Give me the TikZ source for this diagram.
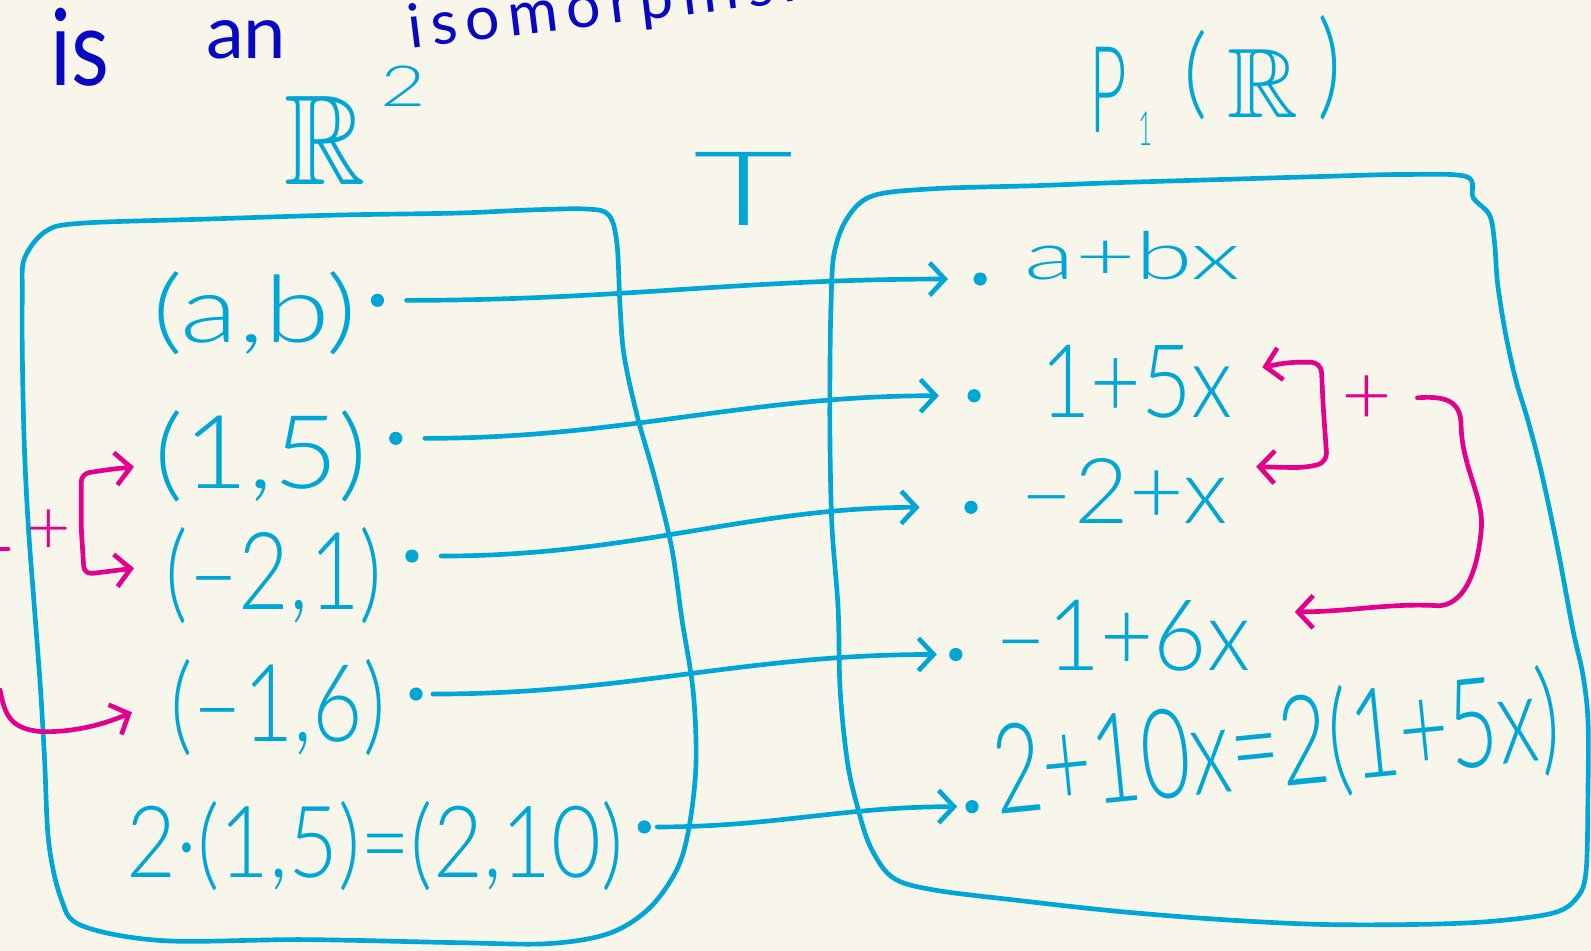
\documentclass[tikz,border=0pt]{standalone}
\usepackage{amssymb}
\usepackage{fontspec}
\usepackage{graphicx}
\usetikzlibrary{arrows.meta}
\setmainfont{Lato}
\newfontfamily\hw{Lato Light}
\newfontfamily\nvf[LetterSpace=14]{Lato}
\newfontfamily\nvr{Lato}
\definecolor{bg}{RGB}{248,246,234}
\definecolor{cy}{RGB}{0,166,214}
\definecolor{mg}{RGB}{228,0,140}
\definecolor{nv}{RGB}{8,8,196}
\newcommand\fb[3]{\resizebox*{#1pt}{#2pt}{#3}}
\begin{document}
\begin{tikzpicture}[x=1pt,y=-1pt,line cap=round,line join=round,
 cl/.style={draw=cy,line width=4.6pt},
 arr/.style={cl,-{Straight Barb[length=15pt,width=32pt]}},
 ml/.style={draw=mg,line width=4.6pt},
 marr/.style={ml,-{Straight Barb[length=15pt,width=32pt]}},
 mbi/.style={ml,{Straight Barb[length=15pt,width=32pt]}-{Straight Barb[length=15pt,width=32pt]}},
 dotn/.style={circle,fill=cy,inner sep=0pt,minimum size=13pt},
 tx/.style={text=cy,inner sep=0pt,outer sep=0pt,anchor=north west},
 mtx/.style={text=mg,inner sep=0pt,anchor=north west},
 ntx/.style={text=nv,inner sep=0pt,anchor=north west}]
\useasboundingbox (0,0) rectangle (1568,937);
\clip (0,0) rectangle (1568,937);
\fill[bg] (0,0) rectangle (1568,937);

% top handwriting
\node[ntx] (is) at (50,8) {\fb{58}{77}{\nvr is}};
\node[ntx] (an) at (203,20) {\fb{79}{38}{\nvr an}};
\node[text=nv,inner sep=0pt,anchor=base west,rotate=7] (iso) at (404,48) {\fontsize{60}{60}\selectfont\nvf isomorphism};

% set labels
\node[tx] (Rl) at (280,95) {\fb{80}{87}{$\mathbb{R}$}};
\node[tx] (Rl2) at (375,65) {\fb{45}{40}{\hw 2}};
\node[tx] (T) at (683,150) {\fb{99}{72}{\hw T}};
\node[tx] (P) at (1074,47) {\fb{37}{84}{\hw P}};
\node[tx] (P1) at (1122,110) {\fb{14}{33}{\hw 1}};
\node[tx] (PL) at (1166,30) {\fb{24}{88}{\hw (}};
\node[tx] (PR) at (1210,49) {\fb{70}{67}{$\mathbb{R}$}};
\node[tx] (PRp) at (1298,15) {\fb{24}{103}{\hw )}};

% boxes
\draw[cl] plot[smooth cycle,tension=0.55] coordinates {
(24,255) (45,228) (80,220) (200,216) (330,212) (450,210) (520,207) (578,206)
(600,212) (608,240) (611,300) (615,350) (628,410) (645,470) (662,540) (672,610)
(683,680) (686,750) (680,810) (668,855) (640,895) (600,920) (540,930) (450,929)
(300,926) (160,927) (80,912) (60,885) (48,830) (44,750) (40,680) (34,600)
(28,520) (24,440) (22,350) (22,290)};
\draw[cl] plot[smooth cycle,tension=0.55] coordinates {
(822,250) (835,215) (860,193) (920,186) (1020,183) (1100,180) (1200,177) (1300,174)
(1380,172) (1445,174) (1452,195) (1468,212) (1473,240) (1476,280) (1484,330)
(1494,375) (1506,415) (1519,465) (1535,540) (1550,620) (1560,665) (1565,710)
(1565,780) (1563,860) (1553,886) (1530,900) (1470,908) (1400,911) (1300,911)
(1200,906) (1100,898) (1000,887) (920,877) (880,865) (858,835) (845,795)
(835,750) (828,680) (826,600) (820,520) (818,440) (818,360) (819,300)};

% left texts
\node[tx] (t1) at (150,268) {\fb{202}{82}{\hw (a,b)}};
\node[tx] (t2) at (152,405) {\fb{210}{90}{\hw (1,5)}};
\node[tx] (t3) at (163,520) {\fb{214}{95}{\hw (–2,1)}};
\node[tx] (t4) at (168,650) {\fb{212}{95}{\hw (–1,6)}};
\node[tx] (t5) at (125,790) {\fb{490}{88}{\hw 2·(1,5)=(2,10)}};

% right texts
\node[tx] (u1) at (1010,228) {\fb{212}{48}{\hw a+bx}};
\node[tx] (u2) at (1025,340) {\fb{190}{72}{\hw 1+5x}};
\node[tx] (u3) at (1005,452) {\fb{205}{64}{\hw –2+x}};
\node[tx] (u4) at (980,592) {\fb{252}{70}{\hw –1+6x}};
\node[text=cy,inner sep=0pt,anchor=base west,rotate=5.7] (u5) at (983,803) {\fb{560}{110}{\hw 2+10x=2(1+5x)}};

% dots
\node[dotn] (L1) at (372,296) {};
\node[dotn] (L2) at (390,432) {};
\node[dotn] (L3) at (406,548) {};
\node[dotn] (L4) at (410,684) {};
\node[dotn] (L5) at (635,815) {};
\node[dotn] (R1) at (966,275) {};
\node[dotn] (R2) at (960,390) {};
\node[dotn] (R3) at (957,500) {};
\node[dotn] (R4) at (942,645) {};
\node[dotn] (R5) at (958,795) {};

% mapping arrows
\draw[arr,shorten <=22pt,shorten >=25pt] (L1) to[out=0,in=180] (R1);
\draw[arr,shorten <=22pt,shorten >=28pt] (L2) to[out=0,in=180] (R2);
\draw[arr,shorten <=22pt,shorten >=44pt] (L3) to[out=0,in=180] (R3);
\draw[arr,shorten <=10pt,shorten >=12pt] (L4) to[out=0,in=180] (R4);
\draw[arr,shorten <=6pt,shorten >=8pt] (L5) to[out=0,in=180] (R5);

% magenta left
\node[mtx] (mp1) at (26,502) {\fb{44}{44}{\hw +}};
\coordinate (a1) at (132,460);
\coordinate (a2) at (132,560);
\draw[mbi,rounded corners=8pt] (a1) -- (105,463) -- (80,467) -- (80,520) -- (83,566) -- (100,564) -- (a2);
\coordinate (m0) at (0,680);
\coordinate (a3) at (130,702);
\draw[marr] (m0) .. controls (5,705) and (10,718) .. (40,721) .. controls (70,722) and (100,715) .. (a3);
\coordinate (m1) at (0,541);
\coordinate (m2) at (8,541);
\draw[ml] (m1) -- (m2);

% magenta right
\coordinate (b1) at (1244,362);
\coordinate (b2) at (1238,460);
\draw[mbi,rounded corners=10pt] (b1) -- (1270,357) -- (1302,357) -- (1304,400) -- (1308,456) -- (1285,461) -- (b2);
\node[mtx] (mp2) at (1322,370) {\fb{50}{48}{\hw +}};
\coordinate (b3) at (1397,392);
\coordinate (b4) at (1276,603);
\draw[marr] (b3) .. controls (1425,390) and (1440,395) .. (1440,420)
 .. controls (1441,460) and (1462,490) .. (1460,520)
 .. controls (1456,570) and (1440,596) .. (1418,597)
 .. controls (1370,594) and (1330,603) .. (b4);
\end{tikzpicture}
\end{document}
